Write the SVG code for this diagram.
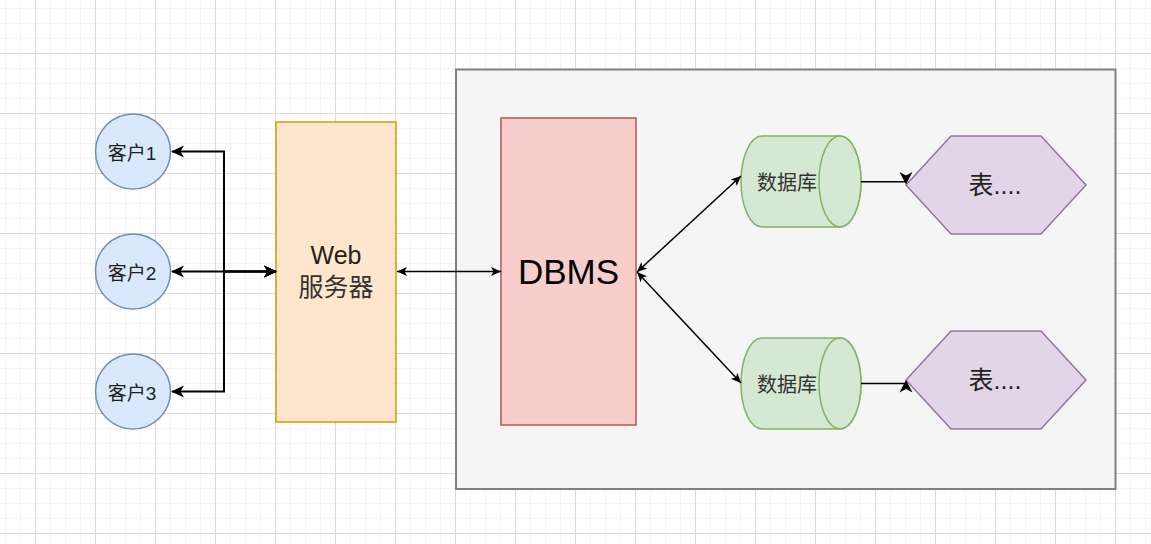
<svg xmlns="http://www.w3.org/2000/svg" width="1151" height="544" viewBox="0 0 1151 544">
  <defs>
    <pattern id="grid" patternUnits="userSpaceOnUse" x="35" y="53" width="60" height="60">
      <rect x="15" y="0" width="1" height="60" fill="#f3f3f3"/>
      <rect x="30" y="0" width="1" height="60" fill="#f3f3f3"/>
      <rect x="45" y="0" width="1" height="60" fill="#f3f3f3"/>
      <rect x="0" y="15" width="60" height="1" fill="#f3f3f3"/>
      <rect x="0" y="30" width="60" height="1" fill="#f3f3f3"/>
      <rect x="0" y="45" width="60" height="1" fill="#f3f3f3"/>
      <rect x="0" y="0" width="1" height="60" fill="#d9d9d9"/>
      <rect x="0" y="0" width="60" height="1" fill="#d9d9d9"/>
    </pattern>
    <marker id="arr" markerUnits="userSpaceOnUse" viewBox="-1 -7 15 14" markerWidth="15" markerHeight="14" refX="12" refY="0" orient="auto-start-reverse">
      <path d="M13,0 L0,-6 L3.5,0 L0,6 Z" fill="#000"/>
    </marker>
    <marker id="arrs" markerUnits="userSpaceOnUse" viewBox="-1 -6 13 12" markerWidth="13" markerHeight="12" refX="10" refY="0" orient="auto-start-reverse">
      <path d="M10,0 L0,-4.5 L2.5,0 L0,4.5 Z" fill="#000"/>
    </marker>
    <style>
      .client { fill: #dae8fc; stroke: #6c8ebf; stroke-width: 1.5; }
      .db { fill: #d5e8d4; stroke: #82b366; stroke-width: 1.5; }
      .hex { fill: #e1d5e7; stroke: #9673a6; stroke-width: 1.5; }
      .lbl { font-family: "Liberation Sans", "Noto Sans CJK SC", sans-serif; fill: #222; text-anchor: middle; }
      .conn { fill: none; stroke: #000; }
    </style>
  </defs>

  <rect x="0" y="0" width="1151" height="544" fill="#ffffff"/>
  <rect x="0" y="0" width="1151" height="544" fill="url(#grid)"/>

  <g id="container">
    <rect x="456" y="69.5" width="659.5" height="419.5" fill="#f5f5f5" stroke="#808080" stroke-width="2"/>
  </g>

  <g id="client1">
    <circle class="client" cx="133" cy="151.5" r="37.5"/>
    <text class="lbl" x="132" y="160" font-size="19">客户1</text>
  </g>
  <g id="client2">
    <circle class="client" cx="133" cy="271.5" r="37.5"/>
    <text class="lbl" x="132" y="280" font-size="19">客户2</text>
  </g>
  <g id="client3">
    <circle class="client" cx="133" cy="391.5" r="37.5"/>
    <text class="lbl" x="132" y="400" font-size="19">客户3</text>
  </g>

  <g id="webserver">
    <rect x="276" y="122" width="120" height="300" fill="#ffe6cc" stroke="#d79b00" stroke-width="1.5"/>
    <text class="lbl" x="336" y="264" font-size="25" fill="#111">Web</text>
    <text class="lbl" x="336" y="296" font-size="25" style="fill:#333">服务器</text>
  </g>

  <g id="dbms">
    <rect x="501" y="118" width="135" height="307" fill="#f8cecc" stroke="#b85450" stroke-width="1.5"/>
    <text class="lbl" x="568.5" y="284" font-size="35" style="fill:#000">DBMS</text>
  </g>

  <g id="db1">
    <path class="db" d="M762,136 H840 A21,45.5 0 0 1 840,227 H762 A21,45.5 0 0 1 762,136 Z"/>
    <ellipse class="db" cx="840" cy="181.5" rx="21" ry="45.5"/>
    <text class="lbl" x="787" y="189.5" font-size="20" style="fill:#333">数据库</text>
  </g>
  <g id="db2">
    <path class="db" d="M762,338 H840 A21,45.5 0 0 1 840,429 H762 A21,45.5 0 0 1 762,338 Z"/>
    <ellipse class="db" cx="840" cy="383.5" rx="21" ry="45.5"/>
    <text class="lbl" x="787" y="391.5" font-size="20" style="fill:#333">数据库</text>
  </g>

  <g id="table1">
    <polygon class="hex" points="906,185 951,136 1041,136 1086,185 1041,234 951,234"/>
    <text class="lbl" x="995" y="194" font-size="25">表....</text>
  </g>
  <g id="table2">
    <polygon class="hex" points="906,380 951,331 1041,331 1086,380 1041,429 951,429"/>
    <text class="lbl" x="995" y="389" font-size="25">表....</text>
  </g>

  <g id="connectors">
    <path class="conn" stroke-width="2" d="M276,271.5 H224 V151.5 H172" marker-start="url(#arr)" marker-end="url(#arr)"/>
    <path class="conn" stroke-width="2" d="M276,271.5 H172" marker-start="url(#arr)" marker-end="url(#arr)"/>
    <path class="conn" stroke-width="2" d="M276,271.5 H224 V391.5 H172" marker-start="url(#arr)" marker-end="url(#arr)"/>
    <path class="conn" stroke-width="1.3" d="M397,271.5 H501" marker-start="url(#arrs)" marker-end="url(#arrs)"/>
    <path class="conn" stroke-width="1.5" d="M637,272 L741,176" marker-start="url(#arrs)" marker-end="url(#arrs)"/>
    <path class="conn" stroke-width="1.5" d="M637,272 L741,383" marker-start="url(#arrs)" marker-end="url(#arrs)"/>
    <path class="conn" stroke-width="1.5" d="M861,181.7 H906"/>
    <path d="M906,184.5 L899.5,172 L906,175.5 L912.5,172 Z" fill="#000"/>
    <path class="conn" stroke-width="1.5" d="M861,383.5 H906"/>
    <path d="M906,380 L899.5,392.5 L906,389 L912.5,392.5 Z" fill="#000"/>
  </g>
</svg>
